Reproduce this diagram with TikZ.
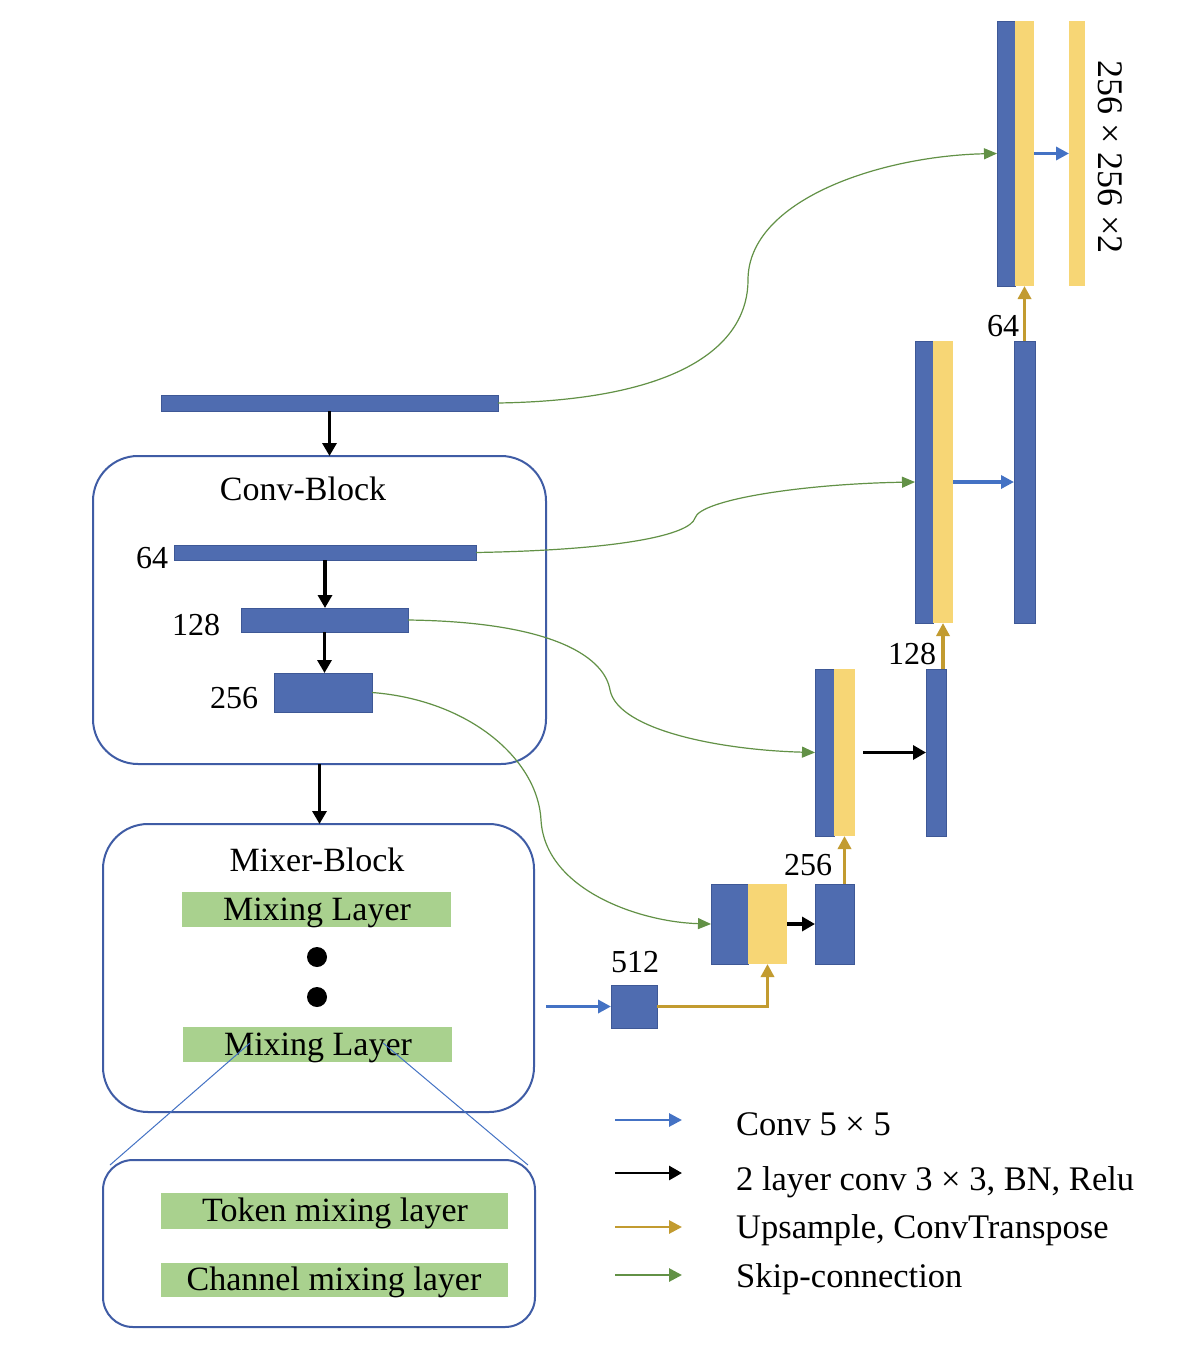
\documentclass[tikz,border=0pt]{standalone}
\usepackage{fontspec}
\setmainfont{Liberation Serif}
\usetikzlibrary{arrows.meta,calc}
\definecolor{cblue}{RGB}{79,108,176}
\definecolor{cblueedge}{RGB}{62,88,150}
\definecolor{cyellow}{RGB}{247,214,117}
\definecolor{cgreenfill}{RGB}{169,209,142}
\definecolor{cgreenline}{RGB}{98,145,70}
\definecolor{cgold}{RGB}{194,155,48}
\definecolor{carrowblue}{RGB}{68,114,196}
\definecolor{cframe}{RGB}{63,92,165}
\begin{document}
\begin{tikzpicture}[x=1pt,y=-1pt,
  fm/.style={inner sep=0pt, outer sep=0pt, anchor=north west},
  bluebar/.style={fm, fill=cblue, draw=cblueedge, line width=0.8pt},
  yelbar/.style={fm, fill=cyellow},
  greenbar/.style={fm, fill=cgreenfill},
  frame/.style={fm, draw=cframe, line width=2pt, rounded corners=45pt},
  lbl/.style={font=\fontsize{32}{38}\selectfont, inner sep=0pt},
  big/.style={font=\fontsize{34}{40}\selectfont},
  blk/.style={draw=black, line width=3.5pt, -{Triangle[length=13pt,width=14pt]}},
  gld/.style={draw=cgold, line width=3.3pt, -{Triangle[length=13pt,width=13pt]}},
  blu/.style={draw=carrowblue, line width=3.3pt, -{Triangle[length=13pt,width=13pt]}},
  skp/.style={draw=cgreenline, line width=1.2pt, -{Triangle[length=13pt,width=11pt]}},
  lgskp/.style={draw=cgreenline, line width=3pt, -{Triangle[length=13pt,width=13pt]}},
]
\useasboundingbox[fill=white] (0,0) rectangle (1176,1348);

% encoder
\node[bluebar, minimum width=337pt, minimum height=16pt] (in) at (161,395) {};
\node[frame, minimum width=453pt, minimum height=308pt] (conv) at (93,456) {};
\node[lbl, big] (convt) at (303,489) {Conv-Block};
\node[bluebar, minimum width=302pt, minimum height=15pt] (b64) at (174,545) {};
\node[bluebar, minimum width=167pt, minimum height=24pt] (b128) at (241,608) {};
\node[bluebar, minimum width=98pt, minimum height=39pt] (b256) at (274,673) {};
\node[lbl] (l64) at (152,558) {64};
\node[lbl] (l128) at (196,625) {128};
\node[lbl] (l256) at (234,698) {256};

% mixer
\node[frame, minimum width=431pt, minimum height=288pt] (mix) at (103,824) {};
\node[lbl, big] (mixt) at (317,860) {Mixer-Block};
\node[greenbar, minimum width=269pt, minimum height=35pt] (ml1) at (182,892) {};
\node[lbl, big] (ml1t) at (317,913) {Mixing Layer};
\node[greenbar, minimum width=269pt, minimum height=35pt] (ml2) at (183,1027) {};
\node[lbl, big] (ml2t) at (318,1048) {Mixing Layer};
\fill[black] (317,957) circle (10);
\fill[black] (317,997) circle (10);

% zoomed mixing layer
\node[frame, rounded corners=30pt, minimum width=432pt, minimum height=167pt] (zf) at (103,1160) {};
\node[greenbar, minimum width=347pt, minimum height=36pt] (tok) at (161,1193) {};
\node[lbl, big] (tokt) at (335,1213) {Token mixing layer};
\node[greenbar, minimum width=347pt, minimum height=34pt] (chan) at (161,1263) {};
\node[lbl, big] (chant) at (334,1282) {Channel mixing layer};
\coordinate (zl1) at (250,1043);
\coordinate (zl2) at (383,1043);
\coordinate (zr1) at (110,1165);
\coordinate (zr2) at (528,1165);
\draw[carrowblue, line width=1pt] (zl1) -- (zr1);
\draw[carrowblue, line width=1pt] (zl2) -- (zr2);

% decoder
\node[bluebar, minimum width=46pt, minimum height=43pt] (b512) at (611,985) {};
\node[lbl] (l512) at (635,962) {512};
\node[bluebar, minimum width=37pt, minimum height=80pt] (c4b) at (711,884) {};
\node[yelbar, minimum width=39pt, minimum height=80pt] (c4y) at (748,884) {};
\node[bluebar, minimum width=39pt, minimum height=80pt] (d4) at (815,884) {};
\node[lbl] (ld4) at (808,865) {256};
\node[bluebar, minimum width=19pt, minimum height=167pt] (c3b) at (815,669) {};
\node[yelbar, minimum width=21pt, minimum height=167pt] (c3y) at (834,669) {};
\node[bluebar, minimum width=20pt, minimum height=167pt] (d3) at (926,669) {};
\node[lbl] (ld3) at (912,654) {128};
\node[bluebar, minimum width=18pt, minimum height=282pt] (c2b) at (915,341) {};
\node[yelbar, minimum width=20pt, minimum height=282pt] (c2y) at (933,341) {};
\node[bluebar, minimum width=21pt, minimum height=282pt] (d2) at (1014,341) {};
\node[lbl] (ld2) at (1003,326) {64};
\node[bluebar, minimum width=18pt, minimum height=265pt] (c1b) at (997,21) {};
\node[yelbar, minimum width=19pt, minimum height=265pt] (c1y) at (1015,21) {};
\node[yelbar, minimum width=16pt, minimum height=265pt] (out) at (1069,21) {};
\node[lbl, font=\fontsize{36}{42}\selectfont, rotate=-90] (lout) at (1110,157) {256 × 256 ×2};

% connectors
\draw[blk] (in.south) -- (in.south |- conv.north);
\draw[blk] (b64.south) -- (b64.south |- b128.north);
\draw[blk] (b128.south) -- (b128.south |- b256.north);
\draw[blk] (conv.south) -- (conv.south |- mix.north);
\draw[blu] ($(mix.east |- b512.west)+(12,0)$) -- (b512.west);
\draw[gld] (b512.east) -| (c4y.south);
\draw[blk] (c4y.east) -- (d4.west);
\draw[gld] (c3y.south |- d4.north) -- (c3y.south);
\draw[blk] ($(c3y.east)+(8,0)$) -- (d3.west);
\draw[gld] (c2y.south |- d3.north) -- (c2y.south);
\draw[blu] (c2y.east) -- (d2.west);
\draw[gld] (d2.north) -- (c1y.south);
\draw[blu] (c1y.east) -- (out.west);

% skip connections
\draw[skp] (in.east) .. controls (690,400) and (748,340) .. (748,280) .. controls (748,200) and (880,156) .. (c1b.west);
\draw[skp] (b64.east) .. controls (620,550) and (690,535) .. (695,518) .. controls (700,500) and (800,484) .. (c2b.west);
\draw[skp] (b128.east) .. controls (560,622) and (605,660) .. (610,690) .. controls (618,730) and (720,750) .. (c3b.west);
\draw[skp] (b256.east) .. controls (470,700) and (538,760) .. (541,820) .. controls (545,890) and (640,922) .. (c4b.west);

% legend
\coordinate (a1) at (615,1120); \coordinate (e1) at (682,1120);
\coordinate (a2) at (615,1173); \coordinate (e2) at (682,1173);
\coordinate (a3) at (615,1227); \coordinate (e3) at (682,1227);
\coordinate (a4) at (615,1275); \coordinate (e4) at (682,1275);
\draw[blu, line width=2.8pt] (a1) -- (e1);
\draw[blk, line width=2.8pt] (a2) -- (e2);
\draw[gld, line width=2.8pt] (a3) -- (e3);
\draw[lgskp, line width=2.8pt] (a4) -- (e4);
\node[lbl, font=\fontsize{34.5}{40}\selectfont, anchor=base west] (t1) at (736,1135) {Conv 5 × 5};
\node[lbl, font=\fontsize{34.5}{40}\selectfont, anchor=base west] (t2) at (736,1190) {2 layer conv 3 × 3, BN, Relu};
\node[lbl, font=\fontsize{34.5}{40}\selectfont, anchor=base west] (t3) at (736,1238) {Upsample, ConvTranspose};
\node[lbl, font=\fontsize{34.5}{40}\selectfont, anchor=base west] (t4) at (736,1287) {Skip-connection};
\end{tikzpicture}
\end{document}
